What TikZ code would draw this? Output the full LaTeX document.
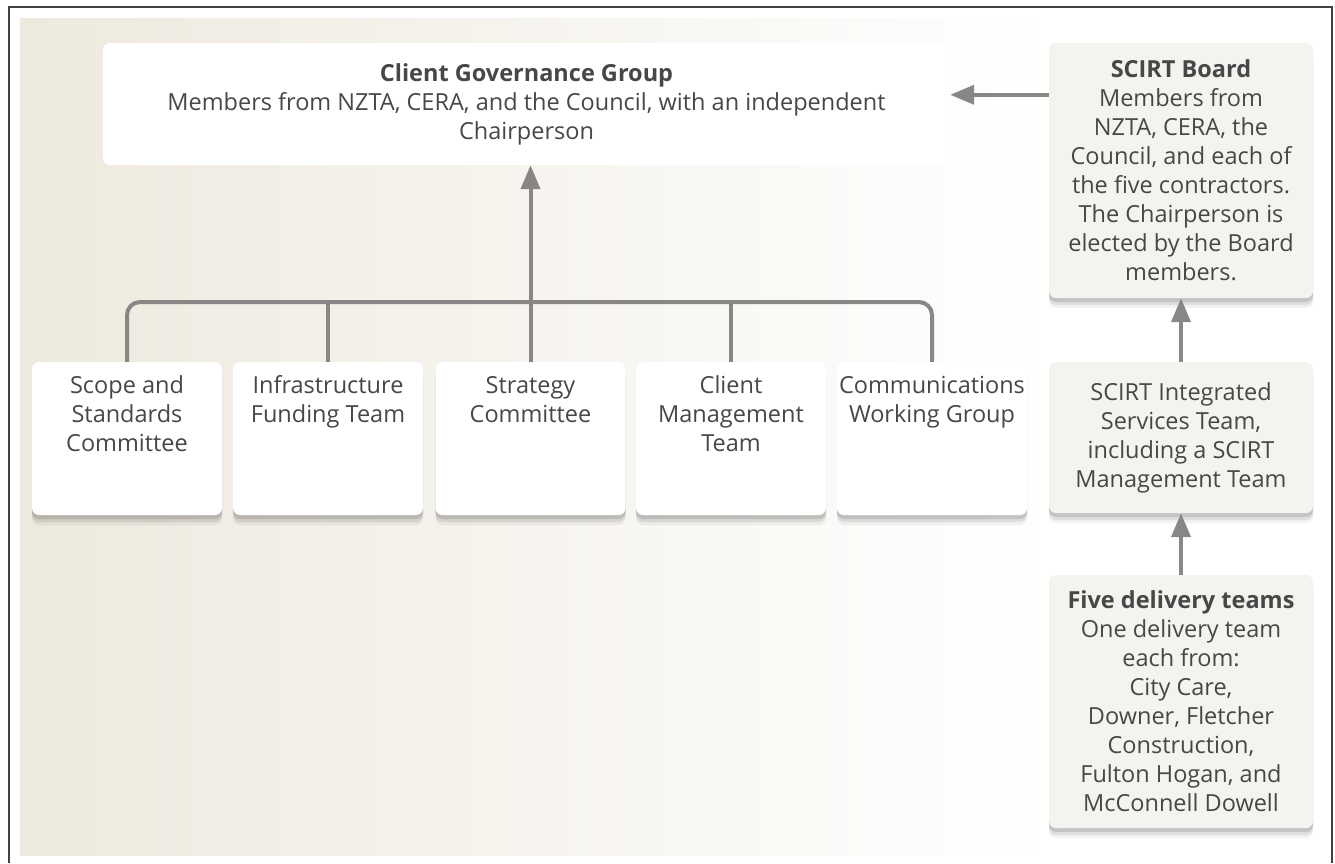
\documentclass[tikz,border=0pt]{standalone}
\usepackage{fontspec}
\setmainfont{Open Sans}
\usepackage{tikz}
\usetikzlibrary{arrows.meta,positioning,shadows}

\definecolor{beige}{HTML}{EEE9DE}
\definecolor{panel}{HTML}{F4F3EF}
\definecolor{linegrey}{HTML}{898785}
\definecolor{textgrey}{HTML}{474747}

\tikzset{
  unit/.style={fill=white, rounded corners=7pt, inner sep=0pt,
    drop shadow={shadow xshift=0pt, shadow yshift=-10pt, opacity=0.05, fill=black},
    drop shadow={shadow xshift=0pt, shadow yshift=-7pt, opacity=0.08, fill=black},
    drop shadow={shadow xshift=0pt, shadow yshift=-4pt, opacity=0.12, fill=black}},
  side/.style={unit, fill=panel, minimum width=264pt, align=center},
  link/.style={draw=linegrey, line width=4pt},
  arrow/.style={link, -{Triangle[width=19pt,length=24pt]}},
}
% text of the committee boxes sits at the top
\newcommand{\unittext}[1]{\parbox[c][153pt][t]{190pt}{\centering\rule{0pt}{31pt}#1}}

\begin{document}
\begin{tikzpicture}[x=1pt, y=-1pt, font=\fontsize{23.5}{29}\selectfont, text=textgrey]
    \useasboundingbox (0,0) rectangle (1335,863);

    % Background and frame
    \shade[left color=beige, middle color=beige!70!white, right color=white] (20,18) rectangle (1060,855);
    \draw[black!75, line width=2pt] (9,863) |- (1332,7) -- (1332,863);

    % Top group
    \node[fill=white, rounded corners=7pt, minimum width=847pt, minimum height=122pt, align=center]
        (cgg) at (526.5,104) {\textbf{Client Governance Group}\\Members from NZTA, CERA, and the Council, with an independent\\Chairperson};

    % Committees
    \node[unit] (scope) at (127,438.5) {\unittext{Scope and\\Standards\\Committee}};
    \node[unit] (infra) at (328,438.5) {\unittext{Infrastructure\\Funding Team}};
    \node[unit] (strategy) at (530.5,438.5) {\unittext{Strategy\\Committee}};
    \node[unit] (mgmt) at (731,438.5) {\unittext{Client\\Management\\Team}};
    \node[unit] (comms) at (932,438.5) {\unittext{Communications\\Working Group}};

    % SCIRT side
    \node[side, minimum height=255pt] (board) at (1181,170.5) {\textbf{SCIRT Board}\\Members from\\NZTA, CERA, the\\Council, and each of\\the five contractors.\\The Chairperson is\\elected by the Board\\members.};
    \node[side, minimum height=151pt] (integ) at (1181,437.5) {SCIRT Integrated\\Services Team,\\including a SCIRT\\Management Team};
    \node[side, minimum height=253pt] (five) at (1181,701.5) {\textbf{Five delivery teams}\\One delivery team\\each from:\\City Care,\\Downer, Fletcher\\Construction,\\Fulton Hogan, and\\McConnell Dowell};

    % Bracket over the committees
    \coordinate (hub) at (530.5,302);
    \draw[link, rounded corners=13pt] (scope.north) |- (hub) -| (comms.north);
    \draw[link] (infra.north) -- (infra.north |- hub);
    \draw[link] (mgmt.north) -- (mgmt.north |- hub);
    \draw[arrow] (strategy.north) -- (strategy.north |- cgg.south);

    % Reporting lines
    \draw[arrow] ([yshift=-52pt]board.north west) coordinate (b) -- (b -| cgg.east);
    \draw[arrow] (integ.north) -- (board.south);
    \draw[arrow] (five.north) -- (integ.south);
\end{tikzpicture}
\end{document}
